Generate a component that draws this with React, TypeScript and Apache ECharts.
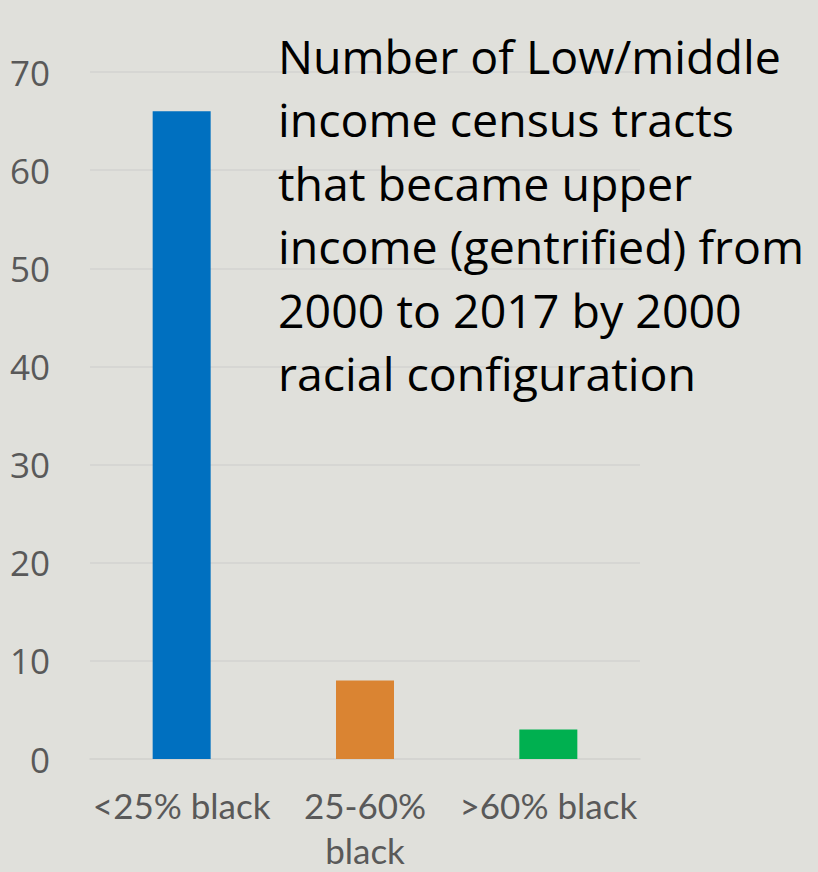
import React, { useEffect, useRef } from "react";
import * as echarts from "echarts";

const categories = ["<25% black", "25-60%\nblack", ">60% black"];
const values = [66, 8, 3];
const barColors = ["#0070C0", "#DA8432", "#00B050"];
const yTicks = [0, 10, 20, 30, 40, 50, 60, 70];
const titleLines = [
  "Number of Low/middle",
  "income census tracts",
  "that became upper",
  "income (gentrified) from",
  "2000 to 2017 by 2000",
  "racial configuration",
];

export default function App() {
  const ref = useRef<HTMLDivElement>(null);
  useEffect(() => {
    document.body.style.margin = "0";
    const chart = echarts.init(ref.current!, null, { renderer: "svg" });
    chart.setOption({
      animation: false,
      backgroundColor: "#E0E0DB",
      title: {
        text: titleLines.join("\n"),
        left: 273,
        top: 19,
        textStyle: {
          fontFamily: "Open Sans",
          fontSize: 46.5,
          fontWeight: "normal",
          color: "#000000",
          lineHeight: 63.5,
        },
      },
      grid: { left: 90, right: 178, top: 72, bottom: 91, containLabel: false },
      xAxis: {
        type: "category",
        data: categories,
        axisLine: { show: true, lineStyle: { color: "#D3D3D0", width: 1.5 } },
        axisTick: { show: false },
        axisLabel: {
          fontFamily: "Lato",
          fontSize: 35,
          color: "#595959",
          margin: 23,
          lineHeight: 45,
          interval: 0,
        },
      },
      yAxis: {
        type: "value",
        min: yTicks[0],
        max: yTicks[yTicks.length - 1],
        interval: 10,
        axisLine: { show: false },
        axisTick: { show: false },
        splitLine: { lineStyle: { color: "#D3D3D0", width: 1.5 } },
        axisLabel: {
          fontFamily: "Open Sans",
          fontSize: 35,
          color: "#595959",
          margin: 40,
        },
      },
      series: [
        {
          type: "bar",
          data: values.map((v, i) => ({ value: v, itemStyle: { color: barColors[i] } })),
          barWidth: 58,
        },
      ],
    });
    return () => chart.dispose();
  }, []);
  return <div ref={ref} style={{ width: 818, height: 872 }} />;
}
